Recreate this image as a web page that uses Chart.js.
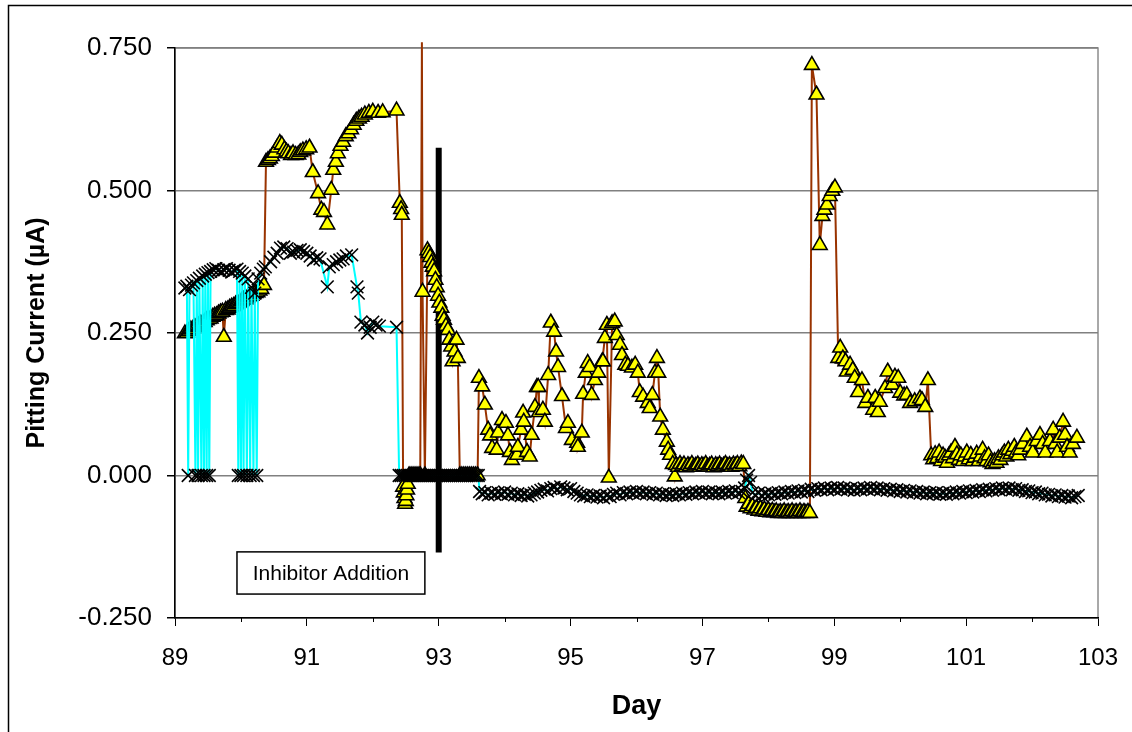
<!DOCTYPE html>
<html>
<head>
<meta charset="utf-8">
<script src="https://cdn.jsdelivr.net/npm/chart.js@4.4.1/dist/chart.umd.min.js"></script>
<style>
html,body{margin:0;padding:0;background:#fff;}
canvas{display:block;}
</style>
</head>
<body>
<canvas id="c" width="1132" height="732"></canvas>
<script>
// ---- Pitting electrode (triangles, brown line) ----
const triDays = [
89.15,89.18,89.21,89.24,89.27,89.30,89.33,89.36,89.39,89.42,
89.45,89.48,89.51,89.54,89.57,89.60,89.63,89.66,89.69,89.72,
89.74,89.77,89.80,89.83,89.86,89.89,89.92,89.95,89.98,90.01,
90.04,90.07,90.10,90.13,90.16,90.19,90.22,90.25,90.28,90.31,
90.35,
90.38,90.41,90.44,90.47,90.51,90.55,90.59,90.62,90.66,90.69,
90.72,90.76,90.79,90.83,90.87,90.90,90.94,90.99,91.04,91.09,
91.17,91.22,91.26,91.31,91.37,91.40,91.44,91.47,91.51,91.55,
91.59,91.63,91.67,91.71,91.75,91.79,91.83,91.88,91.94,92.00,
92.08,92.15,92.36,92.41,92.43,92.44,92.46,92.47,92.48,92.49,
92.50,92.51,92.52,92.53,92.55,92.58,92.61,92.64,92.67,92.70,
92.72,92.745,92.755,92.79,92.83,92.85,92.87,92.89,92.91,92.93,
92.95,92.97,92.99,93.01,93.04,93.06,93.08,93.11,93.14,93.16,
93.19,93.21,93.24,93.27,93.29,93.32,93.35,93.38,93.41,93.44,
93.47,93.50,93.53,93.56,93.59,
93.61,93.66,93.70,93.75,93.78,93.81,93.88,93.90,93.96,94.02,
94.05,94.08,94.11,94.19,94.20,94.25,94.28,94.29,94.34,94.38,
94.41,94.46,94.49,94.51,94.52,94.58,94.61,94.66,94.70,94.75,
94.78,94.81,94.87,94.93,94.96,95.02,95.10,95.11,95.17,95.19,
95.23,95.26,95.29,95.32,95.37,95.42,95.48,95.49,95.52,95.55,
95.58,95.63,95.67,95.70,95.75,95.78,95.83,95.87,95.93,95.98,
96.02,96.05,96.10,96.17,96.20,96.24,96.28,96.31,96.33,96.36,
96.40,96.46,96.48,96.51,96.55,96.58,
96.60,96.63,96.66,96.69,96.72,96.75,96.78,96.81,96.84,96.87,
96.90,96.93,96.96,96.99,97.02,97.05,97.08,97.11,97.14,97.17,
97.20,97.23,97.26,97.29,97.32,97.35,97.38,97.41,97.44,97.47,
97.50,97.53,97.56,97.59,97.62,
97.65,97.67,97.70,97.73,97.76,97.79,97.82,97.85,97.88,97.91,
97.94,97.97,98.00,98.03,98.06,98.09,98.12,98.15,98.18,98.21,
98.24,98.27,98.30,98.33,98.36,98.39,98.42,98.45,98.48,98.51,
98.54,98.57,98.60,98.63,
98.66,98.73,98.78,98.82,98.85,98.89,98.93,98.97,99.01,99.06,
99.09,99.13,99.17,99.19,99.24,99.28,99.31,99.36,99.42,99.47,
99.51,99.59,99.62,99.66,99.69,99.77,99.81,99.88,99.92,99.97,
100.00,100.06,100.10,100.15,100.22,100.30,100.33,100.38,100.42,100.47,
100.50,100.53,100.56,100.59,100.62,100.65,100.68,100.71,100.74,100.77,
100.80,100.83,100.86,100.89,100.92,100.95,100.98,101.01,101.04,101.07,
101.10,101.13,101.16,101.19,101.22,101.25,101.28,101.31,101.34,101.37,
101.40,101.43,101.46,101.49,101.52,101.55,101.58,101.61,101.64,101.67,
101.70,101.73,101.76,101.79,101.82,101.86,101.92,101.97,102.01,102.07,
102.12,102.16,102.20,102.27,102.32,102.35,102.38,102.42,102.47,102.50,
102.53,102.57,102.62,102.68
];
const triCurrent = [
.249,.250,.253,.256,.257,.260,.262,.263,.266,.268,
.269,.272,.274,.275,.278,.280,.281,.284,.286,.287,
.243,.290,.291,.294,.296,.297,.300,.302,.303,.306,
.308,.309,.312,.314,.315,.318,.320,.321,.324,.327,
.334,
.550,.553,.556,.560,.566,.575,.583,.580,.572,.568,
.565,.562,.565,.562,.563,.567,.570,.572,.575,.532,
.495,.466,.462,.440,.501,.536,.550,.565,.578,.585,
.595,.600,.607,.615,.622,.626,.629,.633,.636,.638,
.636,.637,.640,.478,.467,.457,-.020,-.030,-.040,-.050,
-.045,-.035,-.025,-.015,0,0,0,0,0,0,
0,.760,.322,0,.395,.390,.383,.373,.366,.358,
.343,.330,.315,.303,.294,.280,.273,.262,.255,.238,
.226,.200,.217,.238,.206,0,0,0,0,0,
0,0,0,0,0,
.171,.156,.124,.080,.070,.048,.045,.075,.097,.092,
.070,.041,.027,.036,.050,.080,.110,.094,.041,.033,
.071,.120,.155,.155,.111,.115,.094,.176,.268,.252,
.217,.190,.139,.083,.092,.062,.057,.050,.075,.143,
.180,.197,.190,.141,.167,.180,.200,.200,.241,.264,
-.004,.267,.270,.246,.229,.211,.194,.192,.189,.194,
.180,.146,.138,.127,.118,.141,.180,.206,.180,.103,
.080,.059,.045,.036,.020,-.002,
.018,.015,.020,.016,.019,.014,.018,.016,.020,.015,
.017,.019,.015,.018,.016,.020,.015,.017,.019,.014,
.018,.016,.019,.015,.017,.020,.016,.018,.015,.019,
.017,.020,.016,.021,.020,
-.040,-.055,-.050,-.058,-.054,-.060,-.057,-.062,-.058,-.063,
-.060,-.064,-.061,-.065,-.062,-.065,-.063,-.066,-.064,-.066,
-.063,-.066,-.064,-.066,-.063,-.066,-.064,-.066,-.063,-.066,
-.064,-.066,-.064,-.066,
.720,.668,.404,.455,.466,.475,.490,.499,.505,.206,
.224,.205,.200,.182,.194,.185,.171,.146,.167,.127,
.136,.115,.136,.111,.129,.153,.182,.159,.173,.171,
.145,.140,.141,.127,.130,.135,.132,.120,.167,.035,
.028,.037,.030,.040,.025,.035,.031,.022,.035,.040,
.030,.050,.037,.027,.035,.025,.033,.040,.028,.036,
.025,.031,.038,.025,.033,.045,.030,.025,.035,.023,
.020,.025,.022,.030,.027,.035,.040,.033,.045,.037,
.043,.050,.040,.035,.045,.055,.068,.050,.040,.060,
.071,.055,.040,.060,.080,.055,.040,.066,.094,.071,
.050,.040,.055,.066
];

// ---- Second electrode (crosses, cyan line) ----
const crossDays = [
89.15,89.18,89.20,89.22,89.25,89.28,89.31,89.33,89.35,89.37,
89.40,89.42,89.44,89.46,89.48,89.50,89.52,89.54,89.58,89.62,
89.66,89.70,89.74,89.78,89.82,89.86,89.90,89.94,89.96,89.98,
90.00,90.02,90.04,90.06,90.09,90.11,90.14,90.16,90.19,90.21,
90.24,90.26,90.30,90.34,90.37,90.45,90.50,90.55,90.60,90.65,
90.70,90.75,90.80,90.85,90.90,90.95,91.00,91.05,91.10,91.15,
91.20,91.31,91.34,91.40,91.45,91.50,91.55,91.60,91.68,91.76,
91.78,91.82,91.88,91.92,91.96,92.00,92.05,92.10,92.36,92.40,
92.43,92.46,92.49,92.52,92.55,92.58,92.61,92.64,92.67,92.70,
92.73,92.76,92.79,92.82,92.85,92.88,92.91,92.94,92.97,93.00,
93.03,93.06,93.09,93.12,93.15,93.18,93.21,93.24,93.27,93.30,
93.33,93.36,93.39,93.42,93.45,93.48,93.51,93.54,93.57,93.60,
93.62,93.66,93.70,93.75,93.80,93.85,93.90,93.95,94.00,94.05,
94.10,94.15,94.20,94.25,94.30,94.35,94.40,94.45,94.50,94.55,
94.60,94.65,94.70,94.75,94.80,94.85,94.90,94.95,95.00,95.05,
95.10,95.15,95.20,95.25,95.30,95.35,95.40,95.45,95.50,95.55,
95.60,95.65,95.70,95.75,95.80,95.85,95.90,95.95,96.00,96.05,
96.10,96.15,96.20,96.25,96.30,96.35,96.40,96.45,96.50,96.55,
96.60,96.65,96.70,96.75,96.80,96.85,96.90,96.95,97.00,97.05,
97.10,97.15,97.20,97.25,97.30,97.35,97.40,97.45,97.50,97.55,
97.60,97.64,97.67,97.70,97.73,97.76,97.80,97.85,97.90,97.95,
98.00,98.05,98.10,98.15,98.20,98.25,98.30,98.35,98.40,98.45,
98.50,98.55,98.60,98.65,98.70,98.75,98.80,98.85,98.90,98.95,
99.00,99.05,99.10,99.15,99.20,99.25,99.30,99.35,99.40,99.45,
99.50,99.55,99.60,99.65,99.70,99.75,99.80,99.85,99.90,99.95,
100.00,100.05,100.10,100.15,100.20,100.25,100.30,100.35,100.40,100.45,
100.50,100.55,100.60,100.65,100.70,100.75,100.80,100.85,100.90,100.95,
101.00,101.05,101.10,101.15,101.20,101.25,101.30,101.35,101.40,101.45,
101.50,101.55,101.60,101.65,101.70,101.75,101.80,101.85,101.90,101.95,
102.00,102.05,102.10,102.15,102.20,102.25,102.30,102.35,102.40,102.45,
102.50,102.55,102.60,102.65,102.70
];
const crossCurrent = [
.329,.332,0,.326,.334,.338,0,.342,0,.346,
0,.350,0,.353,0,.356,0,.358,.361,.363,
.360,.358,.361,.363,.360,.357,.360,.362,0,.358,
0,.355,0,.350,0,.345,0,.330,0,.320,
0,.345,.355,.362,.366,.375,.383,.390,.399,.401,
.398,.390,.392,.395,.396,.393,.390,.385,.378,.382,
.380,.331,.366,.370,.375,.378,.380,.385,.387,.331,
.320,.269,.264,.250,.260,.269,.264,.262,.260,0,
0,0,0,0,0,0,0,0,0,0,
0,0,0,0,0,0,0,0,0,0,
0,0,0,0,0,0,0,0,0,0,
0,0,0,0,0,0,0,0,0,0,
-.028,-.032,-.030,-.034,-.031,-.033,-.030,-.032,-.029,-.033,
-.031,-.034,-.032,-.035,-.033,-.036,-.034,-.031,-.029,-.026,
-.024,-.027,-.023,-.021,-.024,-.020,-.022,-.025,-.023,-.028,
-.031,-.034,-.036,-.034,-.037,-.035,-.038,-.036,-.039,-.035,
-.037,-.033,-.031,-.034,-.030,-.032,-.029,-.031,-.028,-.031,
-.029,-.032,-.030,-.033,-.031,-.034,-.032,-.035,-.033,-.035,
-.032,-.034,-.031,-.033,-.030,-.032,-.029,-.031,-.028,-.031,
-.029,-.032,-.030,-.032,-.029,-.031,-.028,-.030,-.027,-.030,
-.028,-.022,-.008,.000,-.012,-.030,-.034,-.031,-.035,-.032,
-.034,-.031,-.033,-.030,-.032,-.029,-.031,-.028,-.030,-.027,
-.029,-.026,-.028,-.024,-.026,-.023,-.025,-.022,-.025,-.022,
-.024,-.021,-.024,-.022,-.025,-.023,-.026,-.023,-.025,-.022,
-.024,-.021,-.024,-.022,-.025,-.023,-.026,-.024,-.027,-.025,
-.028,-.026,-.029,-.027,-.030,-.028,-.031,-.029,-.032,-.030,
-.032,-.030,-.033,-.031,-.033,-.030,-.032,-.029,-.031,-.028,
-.030,-.027,-.029,-.026,-.028,-.025,-.027,-.024,-.026,-.023,
-.025,-.022,-.024,-.022,-.025,-.023,-.026,-.025,-.028,-.027,
-.030,-.029,-.032,-.031,-.034,-.033,-.036,-.034,-.037,-.035,
-.038,-.036,-.039,-.037,-.035
];

// ---- Inhibitor addition marker line ----
const inhibitorDays = [93.0, 93.0];
const inhibitorCurrent = [0.575, -0.135];
const inhibitorLabel = 'Inhibitor Addition';

// ---- Axes ----
const xTickValues = [89, 91, 93, 95, 97, 99, 101, 103];
const xMinorTicks = [90, 92, 94, 96, 98, 100, 102];
const yTickValues = [-0.25, 0, 0.25, 0.5, 0.75];
const xTitle = 'Day';
const yTitle = 'Pitting Current (\u00B5A)';

const toPoints = (d, v) => d.map((x, i) => ({ x: x, y: v[i] }));
const FONT = "'Liberation Sans', Arial, sans-serif";

// note box placement in data units
const noteBox = { x0: 89.94, x1: 92.79, yTop: -0.134, yBottom: -0.208 };

const decor = {
  id: 'decor',
  beforeDraw(chart) {
    const { ctx, chartArea: a } = chart;
    ctx.save();
    ctx.fillStyle = '#fff';
    ctx.fillRect(0, 0, chart.width, chart.height);
    ctx.strokeStyle = '#000';
    ctx.lineWidth = 1.5;
    ctx.beginPath();
    ctx.moveTo(8.5, chart.height);
    ctx.lineTo(8.5, 5.5);
    ctx.lineTo(chart.width, 5.5);
    ctx.stroke();
    ctx.strokeStyle = '#8c8c8c';
    ctx.lineWidth = 1.5;
    ctx.strokeRect(a.left, a.top, a.right - a.left, a.bottom - a.top);
    ctx.restore();
  },
  afterDraw(chart) {
    const { ctx } = chart;
    const xs = chart.scales.x, ys = chart.scales.y;
    ctx.save();
    ctx.strokeStyle = '#000';
    ctx.lineWidth = 1;
    xMinorTicks.forEach(d => {
      const px = Math.round(xs.getPixelForValue(d)) + 0.5;
      ctx.beginPath();
      ctx.moveTo(px, ys.bottom);
      ctx.lineTo(px, ys.bottom + 4);
      ctx.stroke();
    });
    const bx0 = xs.getPixelForValue(noteBox.x0), bx1 = xs.getPixelForValue(noteBox.x1);
    const by0 = ys.getPixelForValue(noteBox.yTop), by1 = ys.getPixelForValue(noteBox.yBottom);
    ctx.fillStyle = '#fff';
    ctx.fillRect(bx0, by0, bx1 - bx0, by1 - by0);
    ctx.lineWidth = 1.5;
    ctx.strokeRect(bx0, by0, bx1 - bx0, by1 - by0);
    ctx.fillStyle = '#000';
    ctx.font = "21px 'Liberation Sans Narrow', 'Liberation Sans', Arial, sans-serif";
    ctx.textAlign = 'center';
    ctx.textBaseline = 'middle';
    ctx.fillText(inhibitorLabel, (bx0 + bx1) / 2, (by0 + by1) / 2 + 1);
    ctx.restore();
  }
};

new Chart(document.getElementById('c'), {
  type: 'scatter',
  data: {
    datasets: [
      {
        label: 'Electrode 2',
        data: toPoints(crossDays, crossCurrent),
        showLine: true,
        borderColor: '#00FFFF',
        borderWidth: 2,
        pointStyle: 'crossRot',
        pointRadius: 9,
        pointBorderColor: '#000',
        pointBorderWidth: 1.6,
        order: 0
      },
      {
        label: 'Electrode 1',
        data: toPoints(triDays, triCurrent),
        showLine: true,
        borderColor: '#993300',
        borderWidth: 2,
        pointStyle: 'triangle',
        pointRadius: c => (c.raw && c.raw.y > 0.75) ? 0 : 8.5,
        pointBackgroundColor: '#FFFF00',
        pointBorderColor: '#000',
        pointBorderWidth: 1.6,
        clip: { left: 0, top: 6, right: 0, bottom: 0 },
        order: 1
      },
      {
        label: inhibitorLabel,
        data: toPoints(inhibitorDays, inhibitorCurrent),
        showLine: true,
        borderColor: '#000',
        borderWidth: 6,
        pointRadius: 0,
        order: 2
      }
    ]
  },
  options: {
    responsive: false,
    animation: false,
    devicePixelRatio: 1,
    layout: { padding: { left: 0, top: 48, right: 34, bottom: 0 } },
    plugins: { legend: { display: false }, tooltip: { enabled: false } },
    scales: {
      x: {
        type: 'linear',
        min: 89, max: 103,
        afterBuildTicks: s => { s.ticks = xTickValues.map(v => ({ value: v })); },
        afterFit: s => { s.height = 114; s.paddingLeft = 0; s.paddingRight = 0; },
        ticks: { font: { family: FONT, size: 24 }, color: '#000', padding: 18, maxRotation: 0, autoSkip: false },
        grid: { drawOnChartArea: false, tickLength: 8, color: '#000', tickColor: '#000' },
        border: { color: '#000', width: 1.5 },
        title: { display: true, text: xTitle, color: '#000', font: { family: FONT, size: 27, weight: 'bold' }, padding: { top: 0, bottom: 9 } }
      },
      y: {
        type: 'linear',
        min: -0.25, max: 0.75,
        afterBuildTicks: s => { s.ticks = yTickValues.map(v => ({ value: v })); },
        afterFit: s => { s.width = 175; s.paddingTop = 0; s.paddingBottom = 0; },
        ticks: { font: { family: FONT, size: 26 }, color: '#000', padding: 15, callback: v => Number(v).toFixed(3) },
        grid: {
          tickLength: 8,
          color: c => (c.tick && c.tick.value <= -0.25) ? 'rgba(0,0,0,0)' : '#808080',
          lineWidth: 1.5,
          tickColor: '#000'
        },
        border: { color: '#000', width: 1.5 },
        title: { display: true, text: yTitle, color: '#000', font: { family: FONT, size: 25, weight: 'bold' }, padding: { top: 22, bottom: 0 } }
      }
    }
  },
  plugins: [decor]
});
</script>
</body>
</html>
